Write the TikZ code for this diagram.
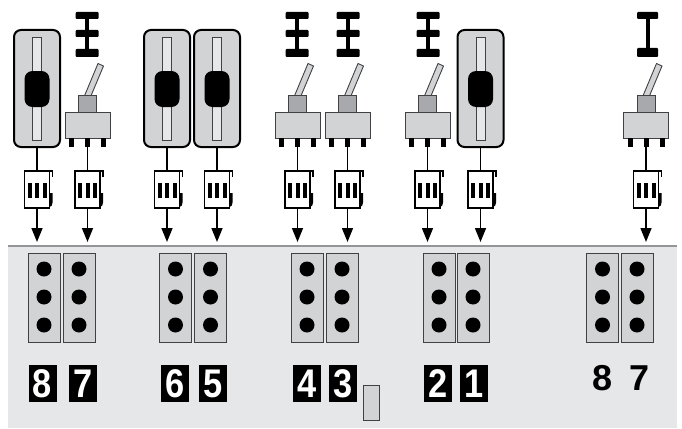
\documentclass[tikz,border=0pt]{standalone}
\usepackage{fontspec}
\setmainfont{Liberation Sans}
\usetikzlibrary{arrows.meta}
\definecolor{panelgray}{HTML}{E6E7E8}
\definecolor{partgray}{HTML}{D1D3D4}
\definecolor{neckgray}{HTML}{A7A9AC}
\definecolor{rimgray}{HTML}{939598}
\definecolor{edgedark}{HTML}{414042}

\newcommand{\narrowdigit}[1]{\scalebox{0.86}[1]{#1}}

\tikzset{
  % sliding switch: rounded housing, slot and knob; origin at its centre
  pics/slider/.style={code={
    \node[draw=black, line width=2pt, fill=partgray, rounded corners=7pt,
          minimum width=46pt, minimum height=117pt, inner sep=0pt] (-body) at (0,0) {};
    \node[draw=edgedark, line width=0.8pt, fill=panelgray, minimum width=9pt,
          minimum height=103pt, inner sep=0pt] (-slot) at (0,0) {};
    \node[fill=black, rounded corners=8pt, minimum width=25pt,
          minimum height=36pt, inner sep=0pt] (-knob) at (0,0.5) {};
  }},
  % toggle switch: lever, bushing, body and three pins; origin at body centre
  pics/toggle/.style={code={
    \filldraw[fill=partgray, draw=edgedark, line width=0.9pt]
      (-3.5,-28) -- (3,-28) -- (16,-59) -- (10.5,-61.5) -- cycle;
    \node[draw=edgedark, line width=0.9pt, fill=neckgray, minimum width=18pt,
          minimum height=17pt, inner sep=0pt] (-neck) at (0,-21.5) {};
    \node[draw=edgedark, line width=0.9pt, fill=partgray, minimum width=45pt,
          minimum height=26pt, inner sep=0pt] (-body) at (0,0) {};
    \fill (-18.5,13) rectangle (-13.5,22);
    \fill (13.5,13) rectangle (18.5,22);
    \node[fill=black, minimum width=5pt, minimum height=9pt, inner sep=0pt] (-pin) at (0,17.5) {};
  }},
  % position marks above a toggle switch; origin at top centre
  pics/ladder/.style={code={
    \fill[rounded corners=1pt] (-11.5,12) rectangle (11.5,19);
    \fill[rounded corners=1pt] (-11.5,30) rectangle (11.5,37);
    \fill[rounded corners=1pt] (-11.5,49) rectangle (11.5,57);
    \fill (-2,12) rectangle (2,57);
  }},
  pics/ibar/.style={code={
    \fill[rounded corners=1pt] (-10.5,12) rectangle (10.5,19);
    \fill[rounded corners=1pt] (-10.5,48) rectangle (10.5,57);
    \fill (-2,12) rectangle (2,57);
  }},
  % cable plug; origin at body centre
  pics/plug/.style={code={
    \node[draw=black, fill=white, line width=1.3pt, minimum width=25pt,
          minimum height=37pt, inner sep=0pt] (-body) at (0,0) {};
    \foreach \dx in {-7.5,0,7.5} \fill (\dx-2,-6.5) rectangle (\dx+2,8.5);
    \draw[line width=1.3pt] (12.5,-18.5) -- (15.5,-18.5) -- (15.5,-13);
    \fill (12.5,3.5) -- (15.5,3.5) -- (15.5,13) to[out=-90,in=0] (12.5,17.5) -- cycle;
  }},
  wire/.style={line width=1.5pt},
  feed/.style={line width=1.5pt, -{Triangle[width=11pt,length=14pt]}},
  header/.style={draw=edgedark, line width=0.9pt, fill=partgray,
                 minimum width=32pt, minimum height=89pt, inner sep=0pt},
  numbox/.style={fill=black, text=white, minimum width=28pt, minimum height=37pt,
                 inner sep=0pt, font=\fontsize{40}{40}\selectfont\bfseries},
  numplain/.style={text=black, inner sep=0pt, anchor=base,
                   font=\fontsize{36}{36}\selectfont\bfseries},
}

\begin{document}
\begin{tikzpicture}[x=1pt,y=-1pt]
\useasboundingbox (0,0) rectangle (682,428);

% base panel
\fill[panelgray] (8,246) rectangle (677,428);
\draw[rimgray, line width=2pt] (8,246) -- (677,246);

% switches
\pic (s1) at (37,88.5) {slider};
\pic (t2) at (87.5,125) {toggle};
\pic at (87,0) {ladder};
\pic (s3) at (167,88.5) {slider};
\pic (s4) at (217,88.5) {slider};
\pic (t5) at (297.5,125) {toggle};
\pic at (297,0) {ladder};
\pic (t6) at (347.5,125) {toggle};
\pic at (348,0) {ladder};
\pic (t7) at (427.5,125) {toggle};
\pic at (428,0) {ladder};
\pic (s8) at (480.5,88.5) {slider};
\pic (t9) at (646,125) {toggle};
\pic at (647.5,0) {ibar};

% plugs
\pic (c1) at (37,189.5) {plug};
\pic (c2) at (87.5,189.5) {plug};
\pic (c3) at (167,189.5) {plug};
\pic (c4) at (217,189.5) {plug};
\pic (c5) at (297.5,189.5) {plug};
\pic (c6) at (347.5,189.5) {plug};
\pic (c7) at (427.5,189.5) {plug};
\pic (c8) at (480.5,189.5) {plug};
\pic (c9) at (646,189.5) {plug};

% wires from switches to plugs
\draw[wire] (s1-body.south) -- (c1-body.north);
\draw[wire] (t2-pin.south) -- (c2-body.north);
\draw[wire] (s3-body.south) -- (c3-body.north);
\draw[wire] (s4-body.south) -- (c4-body.north);
\draw[wire] (t5-pin.south) -- (c5-body.north);
\draw[wire] (t6-pin.south) -- (c6-body.north);
\draw[wire] (t7-pin.south) -- (c7-body.north);
\draw[wire] (s8-body.south) -- (c8-body.north);
\draw[wire] (t9-pin.south) -- (c9-body.north);

% arrows down to the panel
\foreach \i/\x in {1/37,2/87.5,3/167,4/217,5/297.5,6/347.5,7/427.5,8/480.5,9/646}{
  \coordinate (a\i) at (\x,242);
  \draw[feed] (c\i-body.south) -- (a\i);
}

% pin headers
\foreach \n/\x in {h1/44,h2/79,h3/175.5,h4/210.5,h5/307,h6/342,h7/439,h8/473,h9/602.5,h10/637}{
  \node[header] (\n) at (\x,297.5) {};
  \foreach \y in {269,297,325} \fill (\x,\y) circle (7.5);
}

% numbers
\node[numbox] (n8a) at (42.5,383.5) {\narrowdigit{8}};
\node[numbox] (n7a) at (83,383.5) {\narrowdigit{7}};
\node[numbox] (n6) at (175,383.5) {\narrowdigit{6}};
\node[numbox] (n5) at (213,383.5) {\narrowdigit{5}};
\node[numbox] (n4) at (307,383.5) {\narrowdigit{4}};
\node[numbox] (n3) at (343,383.5) {\narrowdigit{3}};
\node[numbox] (n2) at (438,383.5) {\narrowdigit{2}};
\node[numbox] (n1) at (474,383.5) {\narrowdigit{1}};
\node[numplain] (n8b) at (603,390) {8};
\node[numplain] (n7b) at (640,390) {7};

% small tab
\node[draw=edgedark, line width=0.9pt, fill=partgray, minimum width=16pt,
      minimum height=35pt, inner sep=0pt] (tab) at (371,402.5) {};
\end{tikzpicture}
\end{document}
